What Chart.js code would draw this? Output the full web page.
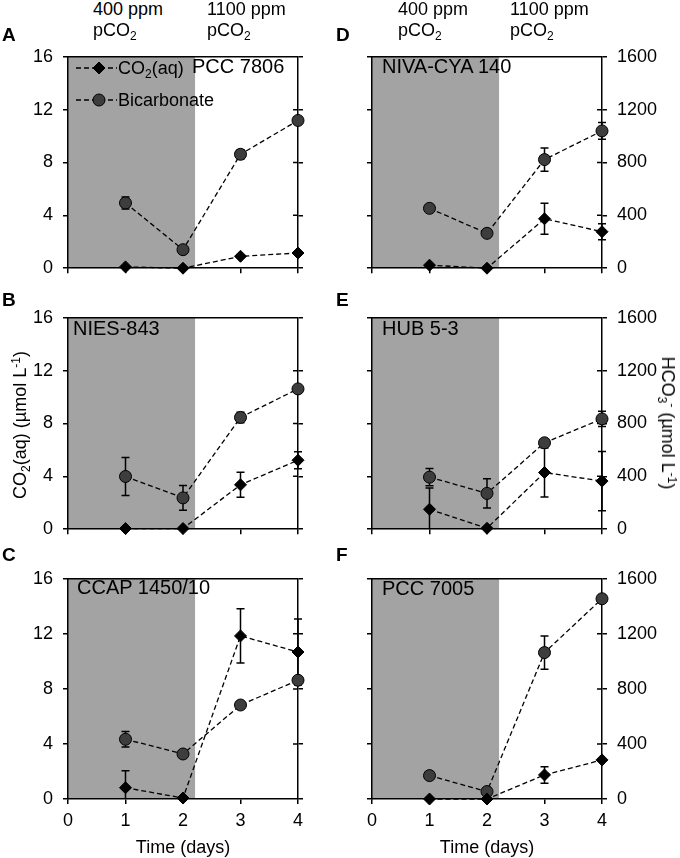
<!DOCTYPE html>
<html lang="en">
<head>
<meta charset="UTF-8">
<title>CO2(aq) and bicarbonate over time</title>
<script src="https://cdn.jsdelivr.net/npm/chart.js"></script>
<style>
    body {
        margin: 0;
        background: #fff;
        font-family: 'Liberation Sans', Arial, sans-serif;
        color: #000;
    }
    #wrap {
        position: relative;
        width: 680px;
        height: 858px;
        overflow: hidden;
    }
    canvas {
        position: absolute;
    }
    .txt {
        position: absolute;
        white-space: nowrap;
        font-size: 18px;
        line-height: 18px;
    }
    .letter { font-weight: bold; font-size: 19px; line-height: 19px; }
    .name { font-size: 20px; line-height: 20px; }
    sub { font-size: 12px; vertical-align: -4px; line-height: 0; }
    sup { font-size: 12px; vertical-align: 6px; line-height: 0; }
    .rot-l { transform: translate(-50%, -50%) rotate(-90deg); }
    .rot-r { transform: translate(-50%, -50%) rotate(90deg); }
    .ctr { transform: translateX(-50%); }
</style>
</head>
<body>
<div id="wrap">
    <canvas id="cA" width="340" height="253" style="left:0;top:36px"></canvas>
    <canvas id="cB" width="340" height="253" style="left:0;top:297px"></canvas>
    <canvas id="cC" width="340" height="281" style="left:0;top:558px"></canvas>
    <canvas id="cD" width="340" height="253" style="left:340px;top:36px"></canvas>
    <canvas id="cE" width="340" height="253" style="left:340px;top:297px"></canvas>
    <canvas id="cF" width="340" height="281" style="left:340px;top:558px"></canvas>

    <div class="txt" style="left:93px;top:0">400 ppm<br><span style="position:relative;top:3px">pCO<sub>2</sub></span></div>
    <div class="txt" style="left:207px;top:0">1100 ppm<br><span style="position:relative;top:3px">pCO<sub>2</sub></span></div>
    <div class="txt" style="left:398px;top:0">400 ppm<br><span style="position:relative;top:3px">pCO<sub>2</sub></span></div>
    <div class="txt" style="left:510px;top:0">1100 ppm<br><span style="position:relative;top:3px">pCO<sub>2</sub></span></div>

    <div class="txt letter" style="left:2px;top:25px">A</div>
    <div class="txt letter" style="left:2px;top:290px">B</div>
    <div class="txt letter" style="left:2px;top:545px">C</div>
    <div class="txt letter" style="left:336px;top:25px">D</div>
    <div class="txt letter" style="left:336px;top:290px">E</div>
    <div class="txt letter" style="left:336px;top:545px">F</div>

    <div class="txt name" style="left:192px;top:56px">PCC 7806</div>
    <div class="txt name" style="left:73px;top:318px">NIES-843</div>
    <div class="txt name" style="left:77px;top:577px">CCAP 1450/10</div>
    <div class="txt name" style="left:382px;top:56px">NIVA-CYA 140</div>
    <div class="txt name" style="left:382px;top:318px">HUB 5-3</div>
    <div class="txt name" style="left:382px;top:578px">PCC 7005</div>

    <div class="txt" style="left:118px;top:59px">CO<sub>2</sub>(aq)</div>
    <div class="txt" style="left:118px;top:91px">Bicarbonate</div>

    <div class="txt rot-l" style="left:20px;top:425px">CO<sub>2</sub>(aq) (µmol L<sup>-1</sup>)</div>
    <div class="txt rot-r" style="left:668px;top:423px">HCO<sub>3</sub><sup>-</sup> (µmol L<sup>-1</sup>)</div>

    <div class="txt ctr" style="left:183px;top:838px">Time (days)</div>
    <div class="txt ctr" style="left:487px;top:838px">Time (days)</div>
</div>

<script>
    // sampling days
    const days = [1, 2, 3, 4];
    // end of the 400 ppm period (shaded)
    const shadeEnd = 2.21;

    // CO2(aq) in umol/L, bicarbonate in umol/L, with error bars
    const co2A = [0.1, 0.0, 0.9, 1.15];
    const co2ErrA = [0, 0, 0, 0];
    const hco3A = [494, 140, 862, 1118];
    const hco3ErrA = [45, 15, 35, 15];

    const co2B = [0.05, 0.05, 3.36, 5.22];
    const co2ErrB = [0, 0, 0.95, 0.65];
    const hco3B = [399, 237, 846, 1062];
    const hco3ErrB = [144, 94, 40, 20];

    const co2C = [0.82, 0.07, 11.85, 10.68];
    const co2ErrC = [1.23, 0, 1.97, 2.4];
    const hco3C = [434, 327, 683, 863];
    const hco3ErrC = [57, 15, 10, 10];

    const co2D = [0.23, 0.0, 3.74, 2.76];
    const co2ErrD = [0, 0, 1.17, 0.6];
    const hco3D = [453, 264, 822, 1039];
    const hco3ErrD = [10, 25, 88, 63];

    const co2E = [1.51, 0.07, 4.29, 3.64];
    const co2ErrE = [1.6, 0, 1.86, 2.25];
    const hco3E = [394, 271, 654, 835];
    const hco3ErrE = [66, 110, 10, 58];

    const co2F = [0.0, 0.0, 1.75, 2.84];
    const co2ErrF = [0, 0, 0.6, 0];
    const hco3F = [170, 54, 1064, 1455];
    const hco3ErrF = [10, 10, 121, 30];

    const co2Ticks = { min: 0, max: 16, step: 4 };
    const hco3Ticks = { min: 0, max: 1600, step: 400 };
    const dayTicks = { min: 0, max: 4, step: 1 };

    Chart.defaults.font.family = "'Liberation Sans', Arial, sans-serif";
    Chart.defaults.font.size = 18;
    Chart.defaults.color = '#000';

    const shade = {
        id: 'shade',
        beforeDraw(chart) {
            const { ctx, chartArea, scales } = chart;
            const x0 = scales.x.getPixelForValue(0);
            const x1 = scales.x.getPixelForValue(shadeEnd);
            ctx.save();
            ctx.fillStyle = '#a3a3a3';
            ctx.fillRect(x0, chartArea.top, x1 - x0, chartArea.bottom - chartArea.top);
            ctx.restore();
        }
    };

    const frame = {
        id: 'frame',
        beforeDatasetsDraw(chart) {
            const { ctx, chartArea, scales } = chart;
            ctx.save();
            ctx.strokeStyle = '#000';
            ctx.lineWidth = 1.5;
            ctx.beginPath();
            ctx.moveTo(chartArea.left, chartArea.top);
            ctx.lineTo(chartArea.right, chartArea.top);
            // inner half of the ticks on the right border
            scales.y1.ticks.forEach(t => {
                if (t.value <= hco3Ticks.min || t.value >= hco3Ticks.max) return;
                const py = scales.y1.getPixelForValue(t.value);
                ctx.moveTo(chartArea.right - 5, py);
                ctx.lineTo(chartArea.right, py);
            });
            ctx.stroke();
            ctx.restore();
        }
    };

    const errorBars = {
        id: 'errorBars',
        beforeDatasetsDraw(chart) {
            const { ctx, chartArea, scales } = chart;
            ctx.save();
            ctx.strokeStyle = '#000';
            ctx.lineWidth = 1.5;
            chart.data.datasets.forEach(ds => {
                const ys = scales[ds.yAxisID];
                ds.data.forEach((p, i) => {
                    const e = ds.errors[i];
                    if (!e) return;
                    const px = scales.x.getPixelForValue(p.x);
                    const top = ys.getPixelForValue(p.y + e);
                    const bot = Math.min(ys.getPixelForValue(p.y - e), chartArea.bottom);
                    ctx.beginPath();
                    ctx.moveTo(px, top);
                    ctx.lineTo(px, bot);
                    ctx.moveTo(px - 4, top);
                    ctx.lineTo(px + 4, top);
                    if (p.y - e > 0) {
                        ctx.moveTo(px - 4, bot);
                        ctx.lineTo(px + 4, bot);
                    }
                    ctx.stroke();
                });
            });
            ctx.restore();
        }
    };

    // legend samples for panel A (text is html)
    const legendSamples = {
        id: 'legendSamples',
        afterDatasetsDraw(chart) {
            const ctx = chart.ctx;
            const rows = [32, 64];
            ctx.save();
            rows.forEach((y, i) => {
                ctx.strokeStyle = '#000';
                ctx.lineWidth = 1.3;
                ctx.setLineDash([5, 3]);
                ctx.beginPath();
                ctx.moveTo(76, y);
                ctx.lineTo(117, y);
                ctx.stroke();
                ctx.setLineDash([]);
                ctx.lineWidth = 1;
                ctx.beginPath();
                if (i === 0) {
                    ctx.fillStyle = '#000';
                    ctx.moveTo(99, y - 6); ctx.lineTo(105, y); ctx.lineTo(99, y + 6); ctx.lineTo(93, y);
                    ctx.closePath();
                } else {
                    ctx.fillStyle = '#3d3d3d';
                    ctx.arc(99, y, 6, 0, Math.PI * 2);
                }
                ctx.fill();
                ctx.stroke();
            });
            ctx.restore();
        }
    };

    function axisStyle(show, pad, range) {
        return {
            min: range.min,
            max: range.max,
            ticks: {
                display: show, padding: pad, stepSize: range.step,
                color: '#000', font: { size: 18 },
                callback: v => String(v)
            },
            grid: { drawOnChartArea: false, drawTicks: true, tickLength: 5, color: '#000', lineWidth: 1.5 },
            border: { display: true, color: '#000', width: 1.5 }
        };
    }

    function makePanel(id, co2, co2Err, hco3, hco3Err, col, row) {
        const isLeft = col === 0;
        const isBottom = row === 2;
        const plugins = [shade, frame, errorBars];
        if (id === 'cA') plugins.push(legendSamples);

        const xAxis = axisStyle(isBottom, 6, dayTicks);
        xAxis.type = 'linear';
        xAxis.afterFit = s => { s.height = isBottom ? 40 : 12; };

        const yAxis = axisStyle(isLeft, 10, co2Ticks);
        yAxis.position = 'left';
        yAxis.afterFit = s => { s.width = isLeft ? 68 : 32; };

        const y1Axis = axisStyle(!isLeft, 10, hco3Ticks);
        y1Axis.position = 'right';
        y1Axis.afterFit = s => { s.width = isLeft ? 42 : 78; };

        new Chart(document.getElementById(id), {
            type: 'line',
            data: {
                datasets: [
                    {
                        label: 'CO2(aq)',
                        data: days.map((d, i) => ({ x: d, y: co2[i] })),
                        errors: co2Err,
                        yAxisID: 'y',
                        borderColor: '#000',
                        borderWidth: 1.3,
                        borderDash: [5, 3],
                        pointStyle: 'rectRot',
                        pointRadius: 6,
                        pointBackgroundColor: '#000',
                        pointBorderColor: '#000',
                        pointBorderWidth: 1,
                        clip: false
                    },
                    {
                        label: 'Bicarbonate',
                        data: days.map((d, i) => ({ x: d, y: hco3[i] })),
                        errors: hco3Err,
                        yAxisID: 'y1',
                        borderColor: '#000',
                        borderWidth: 1.3,
                        borderDash: [5, 3],
                        pointStyle: 'circle',
                        pointRadius: 6,
                        pointBackgroundColor: '#3d3d3d',
                        pointBorderColor: '#000',
                        pointBorderWidth: 1,
                        clip: false
                    }
                ]
            },
            options: {
                responsive: false,
                animation: false,
                layout: { padding: { top: 12, left: 0, right: 0, bottom: 0 } },
                plugins: { legend: { display: false }, tooltip: { enabled: false } },
                scales: { x: xAxis, y: yAxis, y1: y1Axis }
            },
            plugins: plugins
        });
    }

    makePanel('cA', co2A, co2ErrA, hco3A, hco3ErrA, 0, 0);
    makePanel('cB', co2B, co2ErrB, hco3B, hco3ErrB, 0, 1);
    makePanel('cC', co2C, co2ErrC, hco3C, hco3ErrC, 0, 2);
    makePanel('cD', co2D, co2ErrD, hco3D, hco3ErrD, 1, 0);
    makePanel('cE', co2E, co2ErrE, hco3E, hco3ErrE, 1, 1);
    makePanel('cF', co2F, co2ErrF, hco3F, hco3ErrF, 1, 2);
</script>
</body>
</html>
